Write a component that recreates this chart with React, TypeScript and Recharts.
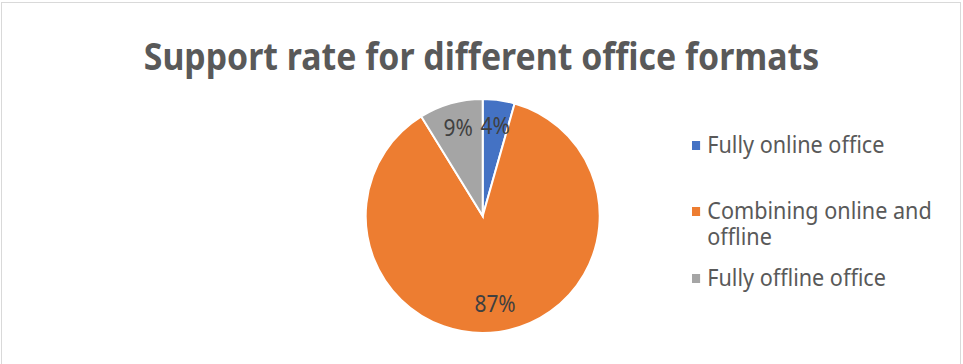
import React from 'react';
import { PieChart, Pie, Cell, Legend } from 'recharts';

const categories = ['Fully online office', 'Combining online and offline', 'Fully offline office'];
const shares = [4.4, 86.8, 8.8];
const colors = ['#4472C4', '#ED7D31', '#A5A5A5'];
const chartTitle = 'Support rate for different office formats';

const data = categories.map((name, i) => ({ name, value: shares[i] }));

const FONT = '"Noto Sans", "Open Sans", sans-serif';
const TITLE_SQUASH = 0.89;
const TEXT_SQUASH = 0.9;
const RAD = Math.PI / 180;

const renderLabel = (props: any) => {
    const { cx, cy, midAngle, percent } = props;
    const r = 90;
    const x = cx + r * Math.cos(-midAngle * RAD);
    const y = cy + r * Math.sin(-midAngle * RAD) - 2;
    return (
        <text
            x={0}
            y={0}
            transform={`translate(${x},${y}) scale(0.87,1)`}
            textAnchor="middle"
            dominantBaseline="central"
            fontFamily={FONT}
            fontSize={24}
            fill="#404040"
        >
            {`${Math.round(percent * 100)}%`}
        </text>
    );
};

// legend item tops, relative to the legend box
const legendTops = [0, 66, 133];

// drawn straight from the arrays so the order stays as in the source
const LegendContent = () => (
    <div style={{ position: 'relative', width: 300, height: 200 }}>
        {categories.map((name, i) => (
            <div
                key={name}
                style={{
                    position: 'absolute',
                    left: 0,
                    top: legendTops[i],
                    width: 300,
                    display: 'flex',
                    alignItems: 'flex-start',
                    transform: `scaleX(${TEXT_SQUASH})`,
                    transformOrigin: '0 0'
                }}
            >
                <span
                    style={{
                        width: 9,
                        height: 9,
                        marginTop: 10,
                        marginRight: 8,
                        background: colors[i],
                        flex: 'none'
                    }}
                />
                <span
                    style={{
                        fontFamily: FONT,
                        fontSize: 24,
                        lineHeight: '26px',
                        color: '#595959',
                        width: 280
                    }}
                >
                    {name}
                </span>
            </div>
        ))}
    </div>
);

const App: React.FC = () => {
    return (
        <div
            style={{
                position: 'absolute',
                left: 0,
                top: 0,
                width: 963,
                height: 364,
                background: '#fff',
                overflow: 'hidden'
            }}
        >
            <div
                style={{
                    position: 'absolute',
                    left: 1,
                    top: 2,
                    width: 958,
                    height: 400,
                    border: '1.5px solid #d9d9d9'
                }}
            />
            <div
                style={{
                    position: 'absolute',
                    left: 0,
                    top: 36,
                    width: 963,
                    textAlign: 'center',
                    fontFamily: FONT,
                    fontWeight: 700,
                    fontSize: 38,
                    lineHeight: '38px',
                    color: '#595959',
                    transform: `scaleX(${TITLE_SQUASH})`,
                    transformOrigin: '481.5px 0'
                }}
            >
                {chartTitle}
            </div>
            <div style={{ position: 'absolute', left: 0, top: 0 }}>
                <PieChart width={963} height={364} margin={{ top: 0, right: 0, bottom: 0, left: 0 }}>
                    <Pie
                        data={data}
                        dataKey="value"
                        nameKey="name"
                        cx={482.7}
                        cy={216}
                        outerRadius={117}
                        startAngle={90}
                        endAngle={-270}
                        stroke="#fff"
                        strokeWidth={2}
                        label={renderLabel}
                        labelLine={false}
                        isAnimationActive={false}
                    >
                        {data.map((d, i) => (
                            <Cell key={d.name} fill={colors[i]} />
                        ))}
                    </Pie>
                    <Legend
                        layout="vertical"
                        content={<LegendContent />}
                        wrapperStyle={{ left: 692, top: 131, width: 300, height: 200 }}
                    />
                </PieChart>
            </div>
        </div>
    );
};

export default App;
